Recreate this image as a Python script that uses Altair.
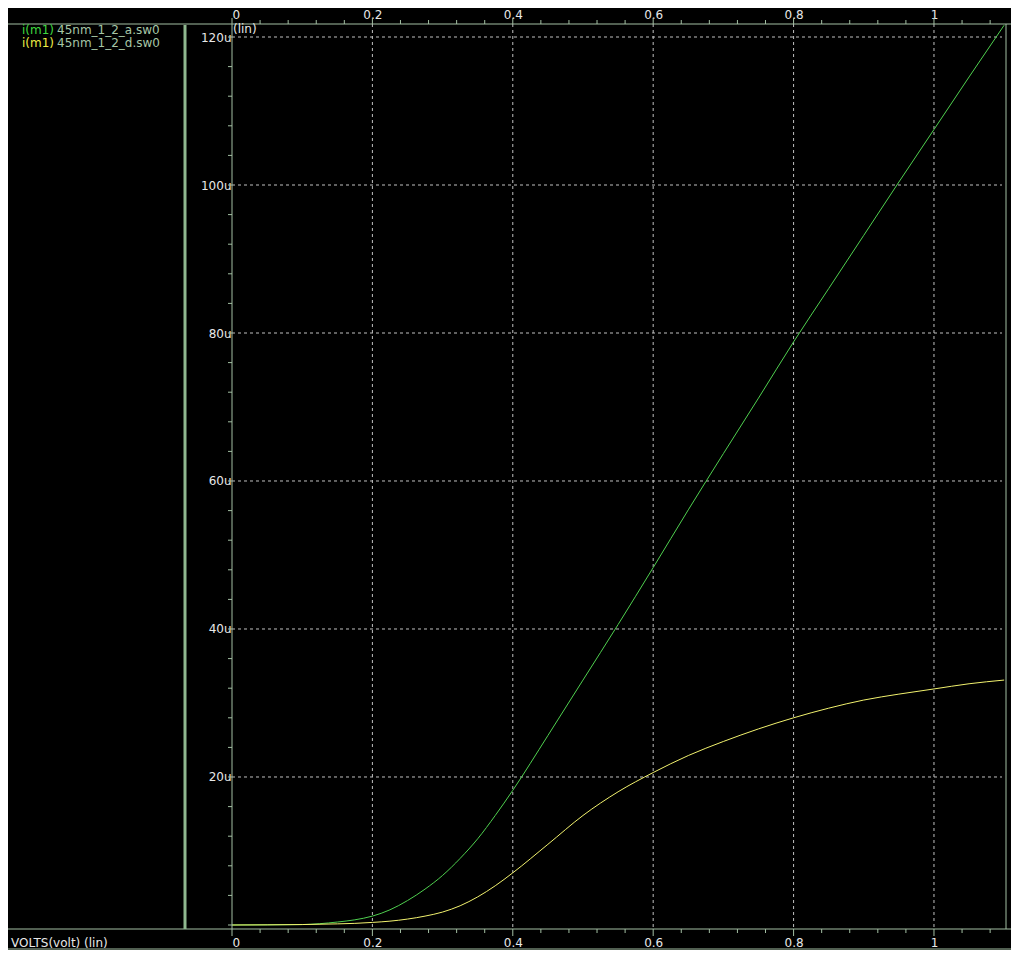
import altair as alt
import pandas as pd

# ---------------- data ----------------
volts = [0.0, 0.05, 0.1, 0.15, 0.175, 0.2, 0.225, 0.25, 0.275, 0.3, 0.325, 0.35,
         0.375, 0.4, 0.45, 0.5, 0.55, 0.6, 0.65, 0.7, 0.75, 0.8, 0.85, 0.9,
         0.95, 1.0, 1.05, 1.1]
i_a = [0.0, 0.02, 0.06, 0.4, 0.7, 1.2, 2.05, 3.3, 4.85, 6.7, 9.0, 11.65,
       14.8, 18.2, 25.6, 33.1, 40.6, 48.3, 56.1, 63.7, 71.2, 78.8, 86.0, 93.2,
       100.4, 107.5, 114.6, 121.6]
i_d = [0.0, 0.02, 0.06, 0.15, 0.22, 0.35, 0.52, 0.8, 1.2, 1.75, 2.6, 3.8,
       5.3, 7.05, 10.9, 14.8, 18.0, 20.6, 22.9, 24.8, 26.5, 28.0, 29.3, 30.4,
       31.2, 31.9, 32.6, 33.1]
series_names = ["45nm_1_2_a.sw0", "45nm_1_2_d.sw0"]
series_prefix = ["i(m1)", "i(m1)"]

x_major = [0, 0.2, 0.4, 0.6, 0.8, 1.0]
x_grid = [0.2, 0.4, 0.6, 0.8, 1.0]
x_minor = [0.04, 0.08, 0.12, 0.16, 0.24, 0.28, 0.32, 0.36, 0.44, 0.48, 0.52,
           0.56, 0.64, 0.68, 0.72, 0.76, 0.84, 0.88, 0.92, 0.96, 1.04, 1.08]
y_major = [20, 40, 60, 80, 100, 120]
y_minor = [0, 4, 8, 12, 16, 20, 24, 28, 32, 36, 40, 44, 48, 52, 56, 60, 64, 68,
           72, 76, 80, 84, 88, 92, 96, 100, 104, 108, 112, 116, 120]

x_title = "VOLTS(volt) (lin)"
y_title = "(lin)"

# ---------------- styling ----------------
GREEN = "#4fd04f"
YELLOW = "#f2f26e"
LEG_GREEN = "#3fd83f"
LEG_YELLOW = "#eeee44"
FRAME = "#a3bfa3"
BAR = "#8fb88f"
NAMECOL = "#a6c6a6"
TXT = "#e8e8e8"
GRID = "#c0c0c0"
FONT = "DejaVu Sans"
W, H = 774, 905
PL, PT, PR, PB = 224, 16, 5, 21

df = pd.DataFrame({
    "V": volts * 2,
    "I": i_a + i_d,
    "series": [series_names[0]] * len(volts) + [series_names[1]] * len(volts),
})

xs = alt.Scale(domain=[0, 1.1026], nice=False, zero=False)
ys = alt.Scale(domain=[-0.541, 121.757], nice=False, zero=False)

lines = alt.Chart(df).mark_line(strokeWidth=1, interpolate="monotone").encode(
    x=alt.X("V:Q", scale=xs, axis=alt.Axis(
        orient="top", values=x_major, format=".1~f", ticks=False, tickSize=0,
        domain=False, grid=False,
        labelColor=TXT, labelFont=FONT, labelFontSize=12, labelPadding=6,
        labelBaseline="alphabetic", title=None)),
    y=alt.Y("I:Q", scale=ys, axis=alt.Axis(
        values=y_major, labelExpr="datum.value + 'u'", ticks=False, tickSize=0,
        domain=False, grid=False,
        labelColor=TXT, labelFont=FONT, labelFontSize=12, labelPadding=1,
        title=None)),
    color=alt.Color("series:N", scale=alt.Scale(domain=series_names, range=[GREEN, YELLOW]),
                    legend=None),
)

tick_major_df = pd.DataFrame({"pos": x_major})
tick_minor_df = pd.DataFrame({"pos": x_minor})
ytick_df = pd.DataFrame({"pos": y_minor})

bottom_axis = alt.Chart(tick_major_df).mark_point(opacity=0).encode(
    x=alt.X("pos:Q", scale=xs, axis=alt.Axis(
        orient="bottom", values=x_major, format=".1~f", ticks=False, tickSize=0,
        domain=False, grid=False, labelColor=TXT, labelFont=FONT, labelFontSize=12,
        labelPadding=17, labelBaseline="alphabetic", title=None)),
    y=alt.value(H),
)

# dashed grid
vgrid = alt.Chart(pd.DataFrame({"pos": x_grid})).mark_rule(
    color=GRID, strokeWidth=1, strokeDash=[3, 3]).encode(
    x=alt.X("pos:Q", scale=xs, axis=None), y=alt.value(0), y2=alt.value(H))
hgrid = alt.Chart(pd.DataFrame({"pos": y_major})).mark_rule(
    color=GRID, strokeWidth=1, strokeDash=[3, 3]).encode(
    y=alt.Y("pos:Q", scale=ys, axis=None), x=alt.value(0), x2=alt.value(W - 4))

def xticks(data, y0, y1):
    return alt.Chart(data).mark_rule(color=FRAME, strokeWidth=1).encode(
        x=alt.X("pos:Q", scale=xs, axis=None), y=alt.value(y0), y2=alt.value(y1))

top_major = xticks(tick_major_df, 0, -6)
top_minor = xticks(tick_minor_df, 0, -4)
bot_major = xticks(tick_major_df, H, H + 7)
bot_minor = xticks(tick_minor_df, H, H + 4)

y_ticks = alt.Chart(ytick_df).mark_rule(color=FRAME, strokeWidth=1).encode(
    y=alt.Y("pos:Q", scale=ys, axis=None), x=alt.value(0), x2=alt.value(-4))

one = pd.DataFrame({"k": [0]})

def hline(y, x0, x1, color=FRAME, w=1):
    return alt.Chart(one).mark_rule(color=color, strokeWidth=w).encode(
        x=alt.value(x0), x2=alt.value(x1), y=alt.value(y))

def vline(x, y0, y1, color=FRAME, w=1):
    return alt.Chart(one).mark_rule(color=color, strokeWidth=w).encode(
        x=alt.value(x), y=alt.value(y0), y2=alt.value(y1))

frame = [
    hline(0, -PL, W + PR),
    hline(H, -PL, W + PR),
    hline(H + 20, -PL, W + PR),
    vline(0, 0, H),
    vline(W, 0, H),
    vline(-47, 1, H, color=BAR, w=3),
]

def label(text, x, y, color, align="left", size=12):
    return alt.Chart(pd.DataFrame({"t": [text]})).mark_text(
        align=align, baseline="alphabetic", font=FONT, fontSize=size, color=color
    ).encode(text="t:N", x=alt.value(x), y=alt.value(y))

texts = [
    label(series_prefix[0], -210, 9.5, LEG_GREEN),
    label(series_names[0], -175, 9.5, NAMECOL),
    label(series_prefix[1], -210, 22.5, LEG_YELLOW),
    label(series_names[1], -175, 22.5, NAMECOL),
    label(y_title, 1, 9, TXT),
    label(x_title, -221, 922.7, TXT),
]

chart = alt.layer(
    vgrid, hgrid, lines, bottom_axis, top_major, top_minor, bot_major, bot_minor,
    y_ticks, *frame, *texts
).resolve_axis(x="independent", y="independent").properties(
    width=W, height=H,
    autosize=alt.AutoSizeParams(type="none"),
    padding={"left": PL, "top": PT, "right": PR, "bottom": PB},
    background="black",
).configure_view(strokeWidth=0)

chart.save("out.html", embed_options={"renderer": "svg", "actions": False})
